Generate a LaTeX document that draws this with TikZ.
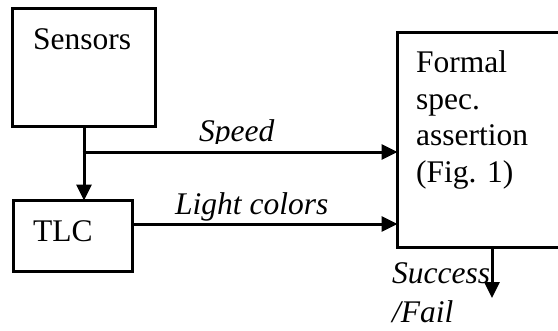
\documentclass[tikz,border=0pt]{standalone}
\usepackage{fontspec}
\setmainfont{Liberation Serif}
\usetikzlibrary{arrows.meta}
\begin{document}
\begin{tikzpicture}[x=1pt,y=-1pt,
  blockbox/.style={draw,line width=3pt,inner sep=0pt,outer sep=0pt},
  label/.style={anchor=base west,inner sep=0pt,font=\fontsize{31.5}{36}\selectfont},
  itlabel/.style={label,font=\fontsize{31.5}{36}\selectfont\itshape},
  flow/.style={line width=3pt,-{Triangle[width=15pt,length=16pt]}},
  plain/.style={line width=3pt}]
\useasboundingbox (0,0) rectangle (558,330);
\clip (0,0) rectangle (558,330);
% blocks
\node[blockbox,minimum width=143pt,minimum height=118pt] (sensors) at (84,67.5) {};
\node[blockbox,minimum width=119pt,minimum height=71pt] (tlc) at (72.5,236) {};
\node[blockbox,minimum width=200pt,minimum height=215pt] (formal) at (497.5,140) {};
% block texts
\node[label] (sensorstxt) at (33,49) {Sensors};
\node[label] (tlctxt) at (33,241) {TLC};
\node[label] (f1) at (416,72) {Formal};
\node[label] (f2) at (416,109) {spec.};
\node[label] (f3) at (416,145) {assertion};
\node[label] (f4) at (416,182) {(Fig. 1)};
% connectors
\coordinate (split) at (84,152);
\coordinate (tlcout) at (132,224);
\coordinate (result) at (492,298);
\draw[flow] (sensors.south) -- (sensors.south |- tlc.north);
\draw[flow] ([xshift=-1.5pt]split) -- (split -| formal.west);
\draw[flow] (tlcout) -- (tlcout -| formal.west);
\draw[flow] (result |- formal.south) -- (result);
% signal labels
\begin{scope}
\clip (150,100) rectangle (300,143);
\node[itlabel] (speed) at (199,141) {Speed};
\end{scope}
\node[itlabel] (light) at (175,214) {Light colors};
\node[itlabel] (succ) at (392,283) {Success};
\node[itlabel] (fail) at (392,322) {/Fail};
\end{tikzpicture}
\end{document}
